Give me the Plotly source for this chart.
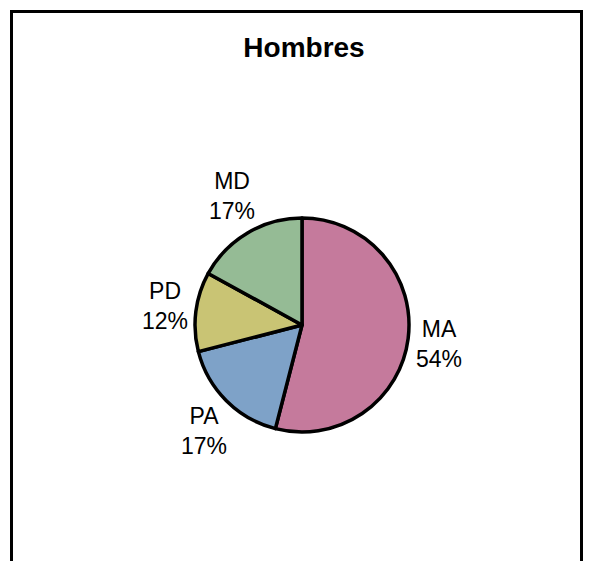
import math
import plotly.graph_objects as go

labels = ["MA", "PA", "PD", "MD"]
values = [54, 17, 12, 17]
colors = ["#c57a9c", "#7ea2c8", "#c9c474", "#95bb95"]

W, H = 591, 561
cx, cy, r = 302, 325, 107
FONT = "Liberation Sans, Arial"

fig = go.Figure(go.Pie(
    labels=labels,
    values=values,
    sort=False,
    direction="clockwise",
    rotation=0,
    marker=dict(colors=colors, line=dict(color="black", width=3.5)),
    textinfo="none",
    domain=dict(x=[(cx - r) / W, (cx + r) / W], y=[1 - (cy + r) / H, 1 - (cy - r) / H]),
    automargin=False,
    showlegend=False,
    hoverinfo="label+percent",
))

# data labels placed outside each slice, at the slice's middle angle
total = sum(values)
start = 0
for lab, v in zip(labels, values):
    mid = (start + v / 2) / total * 2 * math.pi
    start += v
    dx = 138 * math.sin(mid)
    dy = -150 * math.cos(mid)
    fig.add_annotation(
        x=(cx + dx) / W, y=1 - (cy + dy) / H, xref="paper", yref="paper",
        text=f"{lab}<br>{round(v / total * 100)}%", showarrow=False,
        xanchor="center", yanchor="middle", align="center",
        font=dict(family=FONT, size=23, color="black"),
    )

# chart frame (bottom edge runs off the picture)
fig.add_shape(type="rect", xref="paper", yref="paper",
              x0=11.5 / W, x1=581.5 / W, y0=-0.2, y1=1 - 11.5 / H,
              line=dict(color="black", width=3))

fig.update_layout(
    width=W, height=H,
    margin=dict(l=0, r=0, t=0, b=0),
    paper_bgcolor="white",
    plot_bgcolor="white",
    title=dict(text="<b>Hombres</b>", x=304 / W, xanchor="center", y=1 - 47 / H, yanchor="middle",
               font=dict(family=FONT, size=28, color="black")),
)

fig.write_html("out.html", config={"displayModeBar": False})

# drop the default body margin so the figure sits at the window corner
with open("out.html", encoding="utf-8") as f:
    html = f.read()
html = html.replace("<head>", "<head><style>body{margin:0;overflow:hidden}</style>", 1)
with open("out.html", "w", encoding="utf-8") as f:
    f.write(html)
